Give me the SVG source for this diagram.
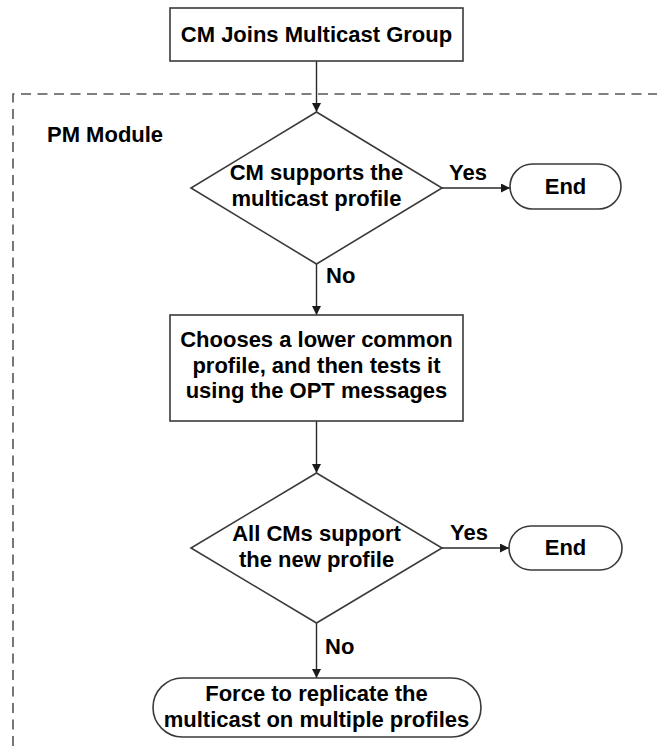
<svg xmlns="http://www.w3.org/2000/svg" width="657" height="746" viewBox="0 0 657 746">
  <style>
    .shape { fill: #ffffff; stroke: #3a3a3a; stroke-width: 1.6; }
    .label { font-family: "Liberation Sans", Arial, sans-serif; font-weight: bold; font-size: 22px; fill: #000000; }
    .mid { text-anchor: middle; }
    .link { fill: none; stroke: #2a2a2a; stroke-width: 1.4; marker-end: url(#arrow); }
    .module { fill: none; stroke: #555555; stroke-width: 1.6; stroke-dasharray: 10 6.5; }
  </style>
  <defs>
    <marker id="arrow" viewBox="0 0 10 10" refX="10" refY="5" markerWidth="9" markerHeight="9" markerUnits="userSpaceOnUse" orient="auto">
      <path d="M0,0 L10,5 L0,10 z" fill="#1a1a1a"/>
    </marker>
  </defs>

  <rect width="657" height="746" fill="#ffffff"/>

  <!-- PM module boundary (open to the right and bottom) -->
  <g id="pm-module">
    <path class="module" d="M13,746 L13,94 L660,94"/>
    <text class="label" x="47" y="142" font-size="20">PM Module</text>
  </g>

  <!-- connectors -->
  <g id="connectors">
    <line class="link" x1="316.5" y1="61" x2="316.5" y2="112"/>
    <line class="link" x1="442" y1="188" x2="510" y2="188"/>
    <line class="link" x1="316.5" y1="264" x2="316.5" y2="315"/>
    <line class="link" x1="316.5" y1="421" x2="316.5" y2="473"/>
    <line class="link" x1="442" y1="548" x2="509" y2="548"/>
    <line class="link" x1="316.5" y1="623" x2="316.5" y2="678"/>
    <text class="label" x="449" y="180">Yes</text>
    <text class="label" x="326" y="283">No</text>
    <text class="label" x="450" y="540">Yes</text>
    <text class="label" x="325" y="654">No</text>
  </g>

  <g id="join">
    <rect class="shape" x="170" y="8" width="293" height="53"/>
    <text class="label mid" x="316.5" y="42">CM Joins Multicast Group</text>
  </g>

  <g id="check-profile">
    <polygon class="shape" points="316.5,112 442,188 316.5,264 191,188"/>
    <text class="label mid" x="316.5" y="180">CM supports the</text>
    <text class="label mid" x="316.5" y="206">multicast profile</text>
  </g>

  <g id="end-1">
    <rect class="shape" x="510" y="164" width="111" height="45" rx="22.5"/>
    <text class="label mid" x="565.5" y="194">End</text>
  </g>

  <g id="choose-lower">
    <rect class="shape" x="170" y="315" width="293" height="106"/>
    <text class="label mid" x="316.5" y="347">Chooses a lower common</text>
    <text class="label mid" x="316.5" y="373">profile, and then tests it</text>
    <text class="label mid" x="316.5" y="398">using the OPT messages</text>
  </g>

  <g id="check-all">
    <polygon class="shape" points="316.5,473 442,548 316.5,623 191,548"/>
    <text class="label mid" x="316.5" y="541">All CMs support</text>
    <text class="label mid" x="316.5" y="567">the new profile</text>
  </g>

  <g id="end-2">
    <rect class="shape" x="509" y="526" width="113" height="44" rx="22"/>
    <text class="label mid" x="565.5" y="555">End</text>
  </g>

  <g id="replicate">
    <rect class="shape" x="153" y="678" width="328" height="59" rx="29.5"/>
    <text class="label mid" x="316.5" y="701">Force to replicate the</text>
    <text class="label mid" x="316.5" y="727">multicast on multiple profiles</text>
  </g>
</svg>
